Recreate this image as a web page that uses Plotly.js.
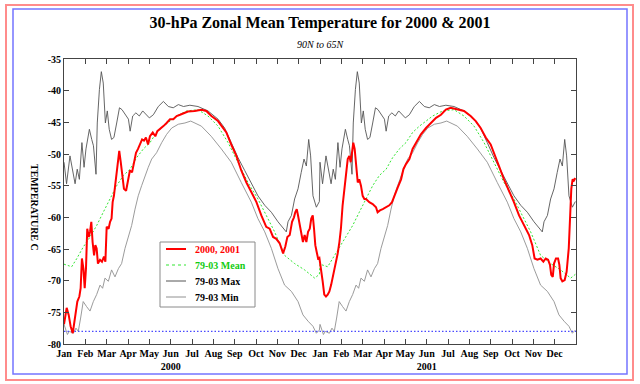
<!DOCTYPE html>
<html>
<head>
<meta charset="utf-8">
<script src="https://cdn.plot.ly/plotly-3.0.1.min.js"></script>
<style>
html,body{margin:0;padding:0;background:#fff;}
#chart{width:640px;height:384px;}
</style>
</head>
<body>
<div id="chart"></div>
<script>
// ---- Labels ----
const monthNames = ["Jan","Feb","Mar","Apr","May","Jun","Jul","Aug","Sep","Oct","Nov","Dec"];
const years = ["2000","2001"];
const yTickVals = [-80,-75,-70,-65,-60,-55,-50,-45,-40,-35];
const pscThreshold = -78;

// ---- 79-03 climatology (x = months since Jan 1, one year) ----
const maxMonths = [0,0.12,0.28,0.41,0.52,0.62,0.72,0.84,0.94,1.03,1.19,1.3,1.38,1.5,1.56,1.66,1.75,1.84,1.94,2.03,
  2.12,2.23,2.34,2.47,2.6,2.72,2.86,3.02,3.1,3.22,3.37,3.53,3.69,3.84,4.0,4.19,4.42,4.66,4.89,5.12,
  5.36,5.6,5.9,6.28,6.75,7.22,7.53,7.84,8.16,8.47,8.78,9.09,9.41,9.72,10.03,10.27,10.42,10.5,10.66,10.81,
  10.97,11.12,11.25,11.36,11.47,11.56,11.67,11.83,11.97];
const maxTemps = [-51.3,-54.7,-50.3,-52.4,-54.7,-52.4,-54,-48.2,-52.1,-49.2,-46.1,-47.7,-48.7,-53.2,-45.1,-39.8,-37,-38.8,-45.1,-43.2,
  -46.1,-47.7,-47.4,-45.1,-42.7,-43,-43.8,-44.5,-46.4,-44,-43.5,-44,-43.2,-43.8,-44.3,-43.8,-42.5,-41.7,-42.5,-42.7,
  -42.2,-42.5,-42.3,-42.5,-43.2,-44.5,-45.9,-48.2,-50.6,-52.6,-54.5,-56.6,-58.1,-59.2,-60.7,-61.8,-62.3,-60.7,-59.7,-57.1,
  -55.5,-52.9,-50.8,-51.9,-47.7,-50.3,-56.6,-58.4,-57.5];

const meanMonths = [0,0.36,0.6,0.9,1.22,1.53,1.84,2.16,2.47,2.78,3.1,3.4,3.72,4.03,4.34,4.66,4.97,5.28,5.75,6.28,
  6.75,7.22,7.69,8.16,8.625,9.09,9.41,9.875,10.34,10.81,11.28,11.75,11.97];
const meanTemps = [-67.4,-67.8,-66.5,-64.7,-63.1,-61.3,-59.2,-57.1,-55,-53.4,-52.4,-50.6,-49.2,-48.2,-46.6,-45.6,-44.8,-44,-43.2,-43,
  -44,-45.6,-48.2,-51.3,-54.5,-57.1,-59.2,-62.3,-66,-67.3,-68.3,-69.6,-69.0];

const minMonths = [0,0.16,0.25,0.44,0.56,0.67,0.78,0.9,1.06,1.22,1.375,1.53,1.69,1.81,1.92,2.08,2.23,2.39,2.55,2.7,
  2.86,3.02,3.17,3.33,3.48,3.64,3.8,3.95,4.11,4.34,4.58,4.81,5.05,5.36,5.67,5.94,6.44,6.9,7.375,7.84,
  8.31,8.78,9.09,9.41,9.72,10.03,10.34,10.66,10.97,11.2,11.44,11.67,11.83,11.97];
const minTemps = [-76.9,-78.5,-78,-78.3,-77.5,-78,-75.9,-73.3,-74.1,-74.8,-73.3,-72.2,-70.7,-71.2,-69.6,-70.1,-68.3,-69.4,-68.1,-67.3,
  -64.9,-63.1,-61.3,-58.7,-56.6,-55,-53.4,-52.1,-50.8,-49.8,-48.2,-46.9,-45.9,-45.3,-45.1,-44.8,-45.6,-47.2,-49.2,-51.3,
  -54.5,-57.6,-60.2,-62.3,-64.9,-68.1,-70.7,-71.7,-73.3,-75.4,-76.4,-77.2,-78.3,-77.8];

// ---- 2000 & 2001 observed (x = months since Jan 1 2000) ----
const obsMonths = [0,0.06,0.125,0.22,0.31,0.41,0.47,0.53,0.625,0.72,0.78,0.84,0.91,0.97,1.03,1.09,1.16,1.22,1.28,1.34,
  1.41,1.47,1.53,1.59,1.69,1.78,1.875,1.94,2.0,2.09,2.16,2.23,2.28,2.34,2.41,2.47,2.53,2.59,2.66,2.72,
  2.81,2.91,3.0,3.09,3.19,3.28,3.375,3.47,3.56,3.66,3.75,3.84,3.94,4.03,4.16,4.28,4.375,4.5,4.66,4.81,
  4.97,5.125,5.28,5.44,5.625,5.81,6.125,6.44,6.67,6.91,7.22,7.375,7.61,7.84,8.08,8.31,8.55,8.78,9.02,9.25,
  9.48,9.64,9.8,9.95,10.11,10.27,10.375,10.47,10.58,10.69,10.78,10.84,10.91,10.97,11.05,11.125,11.2,11.28,11.36,11.44,
  11.52,11.59,11.66,11.72,11.78,11.84,11.91,11.97,12.05,12.125,12.2,12.28,12.36,12.44,12.52,12.59,12.67,12.75,12.83,12.91,
  12.98,13.06,13.14,13.22,13.3,13.375,13.44,13.5,13.56,13.625,13.69,13.77,13.84,13.92,14.0,14.08,14.16,14.31,14.47,14.625,
  14.7,14.81,14.94,15.09,15.25,15.375,15.48,15.64,15.8,15.91,16.03,16.19,16.34,16.5,16.73,16.97,17.2,17.44,17.67,17.9,
  18.125,18.44,18.75,19.06,19.3,19.53,19.77,20.0,20.16,20.39,20.625,20.86,21.09,21.33,21.56,21.8,21.95,22.06,22.19,22.34,
  22.47,22.58,22.69,22.78,22.84,22.91,22.97,23.06,23.16,23.22,23.28,23.36,23.47,23.56,23.66,23.72,23.78,23.84,23.9,23.97];
const obsTemps = [-76.9,-75.9,-74.3,-75.4,-77.2,-78.3,-76.9,-75.4,-73.3,-72.5,-71.2,-66.5,-68.1,-71.2,-68.1,-61.8,-63.1,-62.3,-60.7,-63.9,
  -66,-64.4,-64.9,-67.3,-66.7,-67,-66.2,-67,-61.5,-61.8,-60.7,-60.2,-57.6,-56.6,-54.5,-52.4,-50.8,-49.5,-51.3,-53.2,
  -55.5,-55.8,-54,-52.6,-52.9,-51.3,-49.8,-49.2,-48.5,-47.7,-47.9,-47.4,-48.5,-47.2,-46.6,-47.2,-46.4,-46.1,-45.6,-45.1,
  -44.5,-44.5,-44,-43.8,-43.5,-43.3,-43.2,-43,-43.2,-44,-44.8,-45.6,-46.6,-48.5,-50.3,-52.6,-54.5,-56,-57.6,-59.7,
  -61.5,-61.8,-63.1,-63.4,-64.1,-65.7,-64.6,-63.1,-62.8,-60.7,-60,-59.2,-58.7,-59.7,-61.3,-62.8,-63.9,-62.8,-63.9,-62.3,
  -61.8,-60.2,-59.7,-61.8,-64.4,-65.4,-66.5,-66.4,-68.1,-70.1,-72.2,-72.5,-72.2,-71.7,-70.7,-69.6,-68.6,-67.3,-65.7,-63.9,
  -61.8,-58.1,-55.5,-52.9,-50.8,-50.3,-51.3,-49.8,-48.2,-49.2,-51.9,-54.5,-54,-55,-56.6,-57.1,-57.1,-57.6,-57.9,-58.4,
  -59.2,-58.9,-58.7,-58.4,-58.1,-57.6,-56.6,-55.3,-54,-52.4,-51.6,-50.8,-49.2,-48.2,-46.9,-45.9,-45.1,-44.3,-43.8,-43,
  -42.7,-42.9,-43.2,-44,-44.8,-45.9,-47.4,-48.5,-49.8,-51.9,-54,-55.8,-57.6,-59.7,-61.3,-62.8,-64.4,-66.5,-66.7,-66.5,
  -67,-66.5,-66.7,-67.5,-69.1,-69.4,-67.3,-66.5,-66.5,-67.5,-69.6,-70.1,-69.9,-68.6,-64.9,-59.7,-55.5,-54,-54.2,-53.8];

// ---- derived ----
const nYears = years.length;
const repeatX = arr => { let out = []; for (let k = 0; k < nYears; k++) out = out.concat(arr.map(v => v + 12 * k)); return out; };
const repeatY = arr => { let out = []; for (let k = 0; k < nYears; k++) out = out.concat(arr); return out; };

const xTickVals = [], xTickText = [];
years.forEach((yr, yi) => monthNames.forEach((mn, mi) => {
  xTickVals.push(yi * 12 + mi);
  xTickText.push(mn === "Jun" ? mn + "<br>" + yr : mn);
}));
const xEnd = 12 * nYears;

const serif = "Liberation Serif, Times New Roman, serif";
const C = {red: "#ff0000", green: "#33e633", max: "#555555", min: "#909090", blue: "#4a4aff"};

const traces = [
  {x: repeatX(maxMonths), y: repeatY(maxTemps), mode: "lines", line: {color: C.max, width: 0.9}, name: "79-03 Max"},
  {x: repeatX(minMonths), y: repeatY(minTemps), mode: "lines", line: {color: C.min, width: 0.9}, name: "79-03 Min"},
  {x: repeatX(meanMonths), y: repeatY(meanTemps), mode: "lines", line: {color: C.green, width: 1, dash: "2px,2px"}, name: "79-03 Mean"},
  {x: [0, xEnd], y: [pscThreshold, pscThreshold], mode: "lines", line: {color: C.blue, width: 1.4, dash: "1.5px,2px"}, name: "threshold"},
  {x: obsMonths, y: obsTemps, mode: "lines", line: {color: C.red, width: 2}, name: "2000, 2001"}
];

// pixel -> paper helpers (plot area 64..576 x 59..344)
const PL = 64, PR = 576, PT = 59, PB = 344;
const px = p => (p - PL) / (PR - PL);
const py = p => (PB - p) / (PB - PT);

const legendRows = [
  {label: "2000, 2001", color: C.red, text: C.red, dash: "solid", width: 2, y: 249},
  {label: "79-03 Mean", color: C.green, text: "#11cc11", dash: "dot", width: 1.2, y: 265},
  {label: "79-03 Max", color: C.max, text: "#000", dash: "solid", width: 1, y: 281},
  {label: "79-03 Min", color: C.min, text: "#000", dash: "solid", width: 1, y: 297}
];

const shapes = [
  {type: "rect", xref: "paper", yref: "paper", x0: px(6), x1: px(633), y0: py(380), y1: py(5), line: {color: "#ff8c8c", width: 2}},
  {type: "rect", xref: "paper", yref: "paper", x0: px(13), x1: px(627), y0: py(374), y1: py(9), line: {color: "#7474ff", width: 1.5}},
  {type: "rect", xref: "paper", yref: "paper", x0: px(160), x1: px(255), y0: py(307), y1: py(242), line: {color: "#8a8a8a", width: 1}, fillcolor: "rgba(0,0,0,0)"}
];
const annotations = [
  {xref: "paper", yref: "paper", x: 0.5, y: py(44), text: "90N to 65N", showarrow: false, xanchor: "center", yanchor: "middle",
   font: {family: serif, size: 10, style: "italic", color: "#000"}},
  {xref: "paper", yref: "paper", x: px(35), y: py(207), text: "TEMPERATURE C", showarrow: false, textangle: 90,
   xanchor: "center", yanchor: "middle", font: {family: serif, size: 10, weight: "bold", color: "#000"}}
];
legendRows.forEach(r => {
  shapes.push({type: "line", xref: "paper", yref: "paper", x0: px(166), x1: px(186), y0: py(r.y), y1: py(r.y),
               line: {color: r.color, width: r.width, dash: r.dash}});
  annotations.push({xref: "paper", yref: "paper", x: px(193), y: py(r.y), text: r.label, showarrow: false,
                    xanchor: "left", yanchor: "middle", font: {family: serif, size: 10, weight: "bold", color: r.text}});
});

const layout = {
  width: 640, height: 384,
  margin: {l: PL, r: 640 - PR, t: PT, b: 384 - PB, pad: 0},
  paper_bgcolor: "#fff", plot_bgcolor: "#fff",
  showlegend: false,
  title: {text: "30-hPa Zonal Mean Temperature for 2000 & 2001", x: 0.5, xanchor: "center", y: 1 - 22 / 384, yanchor: "middle",
          yref: "container", font: {family: serif, size: 16, weight: "bold", color: "#000"}},
  xaxis: {range: [0, xEnd], tickmode: "array", tickvals: xTickVals, ticktext: xTickText, tickangle: 0,
          ticks: "inside", ticklen: 5, tickcolor: "#444", showline: true, linecolor: "#444", linewidth: 1, mirror: "ticks",
          showgrid: false, zeroline: false, fixedrange: true,
          tickfont: {family: serif, size: 10, weight: "bold", color: "#000"}},
  yaxis: {range: [-80, -35], tickmode: "array", tickvals: yTickVals, ticktext: yTickVals.map(String),
          ticks: "inside", ticklen: 5, tickcolor: "#444", showline: true, linecolor: "#444", linewidth: 1, mirror: "ticks",
          showgrid: false, zeroline: false, fixedrange: true,
          tickfont: {family: serif, size: 10, weight: "bold", color: "#000"}},
  shapes: shapes,
  annotations: annotations
};

Plotly.newPlot("chart", traces, layout, {displayModeBar: false, staticPlot: true});
</script>
</body>
</html>
